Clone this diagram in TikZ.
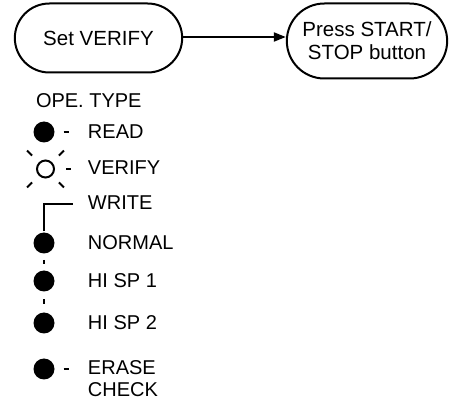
\documentclass[tikz,border=0pt]{standalone}
\usepackage{fontspec}
\setmainfont{Liberation Sans}
\usetikzlibrary{arrows.meta,positioning,shapes.misc}

\tikzset{
  stepbox/.style={draw, rounded rectangle, line width=2pt, align=center,
    font=\fontsize{20.5}{23}\selectfont},
  lamp/.style={circle, fill=black, minimum size=21pt, inner sep=0pt},
  lbl/.style={anchor=west, inner sep=0pt, align=left, font=\fontsize{20}{22}\selectfont}
}

\begin{document}
\begin{tikzpicture}[x=1pt, y=-1pt, line width=2pt]
\useasboundingbox (0,0) rectangle (451,404);

% draw the two steps
\node (setv) [stepbox, minimum width=174pt, minimum height=69pt] at (98.5,38) {Set VERIFY};
\node (press) [stepbox, minimum width=167pt, minimum height=75pt] at (367,41) {Press START/\\STOP button};
\draw [-{Triangle[length=12pt, width=9pt]}] (setv.east |- 0,37) -- (press.west |- 0,37);

% draw lamps
\node (opetype) [lbl] at (35,100.5) {OPE. TYPE};

\node (rd) [lamp] at (44,132) {};
\node (vf) [circle, draw, minimum size=17pt, inner sep=0pt] at (45.5,169) {};
\node (nm) [lamp] at (44,243) {};
\node (h1) [lamp] at (44,281) {};
\node (h2) [lamp] at (44,323) {};
\node (er) [lamp] at (44,369) {};

\node (readlbl) [lbl] at (87,131.5) {READ};
\node (verifylbl) [lbl] at (87,167.5) {VERIFY};
\node (writelbl) [lbl] at (87,203) {WRITE};
\node (normallbl) [lbl] at (87,243) {NORMAL};
\node (hisp1lbl) [lbl] at (87,281) {HI SP 1};
\node (hisp2lbl) [lbl] at (87,323) {HI SP 2};
\node (eraselbl) [lbl] at (87,379) {ERASE\\CHECK};

% short dashes
\draw (rd.east) ++(8,0) -- ++(5,0);
\draw (vf.east) ++(11,0) -- ++(5,0);
\draw (er.east) ++(8,0) -- ++(5,0);
\draw [shorten <=5.5pt, shorten >=5.5pt] (nm) -- (h1);
\draw [shorten <=7pt, shorten >=7pt] (h1) -- (h2);

% rays of the blinking lamp
\foreach \a in {45,135,225,315}
  \draw (vf.center) ++(\a:19) -- ++(\a:7);

% write bracket
\coordinate (wr) at (73,204);
\draw (nm.north) |- (wr);

\end{tikzpicture}
\end{document}
